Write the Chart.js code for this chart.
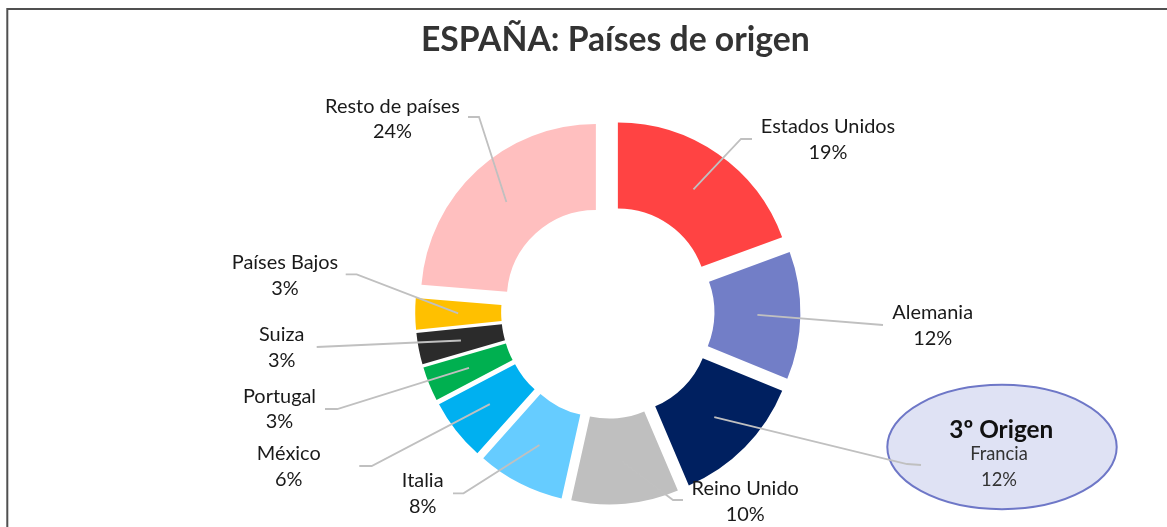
<!DOCTYPE html>
<html>
<head>
<meta charset="utf-8">
<script src="https://cdn.jsdelivr.net/npm/chart.js@4.4.1/dist/chart.umd.min.js"></script>
<style>
  html, body { margin: 0; padding: 0; background: #ffffff; }
  #wrap { position: relative; width: 1167px; height: 527px; }
  canvas { display: block; }
</style>
</head>
<body>
<div id="wrap"><canvas id="c" width="1167" height="527"></canvas></div>
<script>
// ---------- DATA ----------
const title = 'ESPAÑA: Países de origen';
const categories = ['Estados Unidos', 'Alemania', 'Francia', 'Reino Unido', 'Italia', 'México', 'Portugal', 'Suiza', 'Países Bajos', 'Resto de países'];
const shares = [19.4, 11.8, 12.4, 9.9, 8.1, 5.7, 3.2, 2.9, 2.9, 23.7];
const sliceColors = ['#FF4343', '#727EC7', '#002060', '#BFBFBF', '#66CCFF', '#00B0F0', '#00B050', '#2B2B2B', '#FFC000', '#FFBFBF'];
const highlightIndex = 2;
const highlightTitle = '3º Origen';

// ---------- LAYOUT (label placement, not data) ----------
// [text centre x, first baseline y, elbow x, elbow y, end x, end y]
const labelLayout = [
  [828, 133.3, 741, 139, 752, 139],
  [932.7, 319.3, 883, 325, 883, 325],
  [999, 460, 907, 464, 921, 465],
  [745.2, 495, 673, 500, 683, 500],
  [422.7, 487, 463.5, 493.3, 453, 493.3],
  [288.8, 460, 371.7, 466, 359.3, 466],
  [279.5, 402.7, 337.3, 409, 325, 409],
  [281.7, 341, 316.7, 347, 316.7, 347],
  [285, 269.3, 356.7, 274.3, 345.7, 274.3],
  [392.5, 112.7, 479, 117, 468, 117]
];
const EXPLODE = 17.6;
const FONT = 'Lato';

const measureCtx = document.createElement('canvas').getContext('2d');
function fitSize(text, weight, target) {
  measureCtx.font = weight + ' 100px ' + FONT;
  return 100 * target / measureCtx.measureText(text).width;
}
const titleSize = fitSize(title, 'bold', 389);
const labelSize = fitSize('Estados Unidos', 'normal', 129.3) * 1.04;
const hlTitleSize = fitSize(highlightTitle, 'bold', 104);

const explodePlugin = {
  id: 'explode',
  afterDatasetsUpdate(chart) {
    const meta = chart.getDatasetMeta(0);
    meta.data.forEach(arc => {
      const mid = (arc.startAngle + arc.endAngle) / 2;
      arc.x += Math.cos(mid) * EXPLODE;
      arc.y += Math.sin(mid) * EXPLODE;
    });
  }
};

const framePlugin = {
  id: 'frame',
  beforeDraw(chart) {
    const ctx = chart.ctx;
    ctx.save();
    ctx.strokeStyle = '#505050';
    ctx.lineWidth = 2;
    ctx.strokeRect(7.3, 9, 1200, 600);
    ctx.restore();
  }
};

const labelPlugin = {
  id: 'labels',
  afterDatasetsDraw(chart) {
    const ctx = chart.ctx;
    const meta = chart.getDatasetMeta(0);
    ctx.save();
    // title
    ctx.fillStyle = '#333333';
    ctx.font = 'bold ' + titleSize + 'px ' + FONT;
    ctx.textAlign = 'center';
    ctx.textBaseline = 'alphabetic';
    ctx.fillText(title, 615.4, 51);

    // highlight ellipse
    ctx.beginPath();
    ctx.ellipse(1002, 447, 114.7, 62.2, 0, 0, Math.PI * 2);
    ctx.fillStyle = '#DFE2F4';
    ctx.fill();
    ctx.lineWidth = 2;
    ctx.strokeStyle = '#6E77C7';
    ctx.stroke();

    meta.data.forEach((arc, i) => {
      const mid = (arc.startAngle + arc.endAngle) / 2;
      const rr = (arc.innerRadius + arc.outerRadius) / 2;
      const sx = arc.x + Math.cos(mid) * rr;
      const sy = arc.y + Math.sin(mid) * rr;
      const L = labelLayout[i];
      ctx.beginPath();
      ctx.moveTo(sx, sy);
      ctx.lineTo(L[2], L[3]);
      ctx.lineTo(L[4], L[5]);
      ctx.strokeStyle = '#C0C0C0';
      ctx.lineWidth = 1.8;
      ctx.stroke();
    });

    meta.data.forEach((arc, i) => {
      const L = labelLayout[i];
      const pct = Math.round(shares[i]) + '%';
      ctx.textAlign = 'center';
      if (i === highlightIndex) {
        ctx.fillStyle = '#111111';
        ctx.font = 'bold ' + hlTitleSize + 'px ' + FONT;
        ctx.fillText(highlightTitle, 1001.3, 438.3);
        ctx.fillStyle = '#333333';
        ctx.font = (labelSize * 0.92) + 'px ' + FONT;
      } else {
        ctx.fillStyle = '#1A1A1A';
        ctx.font = labelSize + 'px ' + FONT;
      }
      ctx.fillText(categories[i], L[0], L[1]);
      ctx.fillText(pct, L[0], L[1] + 25.5);
    });
    ctx.restore();
  }
};

new Chart(document.getElementById('c'), {
  type: 'doughnut',
  data: {
    labels: categories,
    datasets: [{
      data: shares,
      backgroundColor: sliceColors,
      borderWidth: 0,
      hoverOffset: 0
    }]
  },
  options: {
    responsive: false,
    animation: false,
    events: [],
    cutout: '50.9%',
    radius: 175,
    layout: { padding: { left: 48.6, top: 97, right: 0, bottom: 0 } },
    plugins: {
      legend: { display: false },
      tooltip: { enabled: false },
      title: { display: false }
    }
  },
  plugins: [framePlugin, explodePlugin, labelPlugin]
});
</script>
</body>
</html>
